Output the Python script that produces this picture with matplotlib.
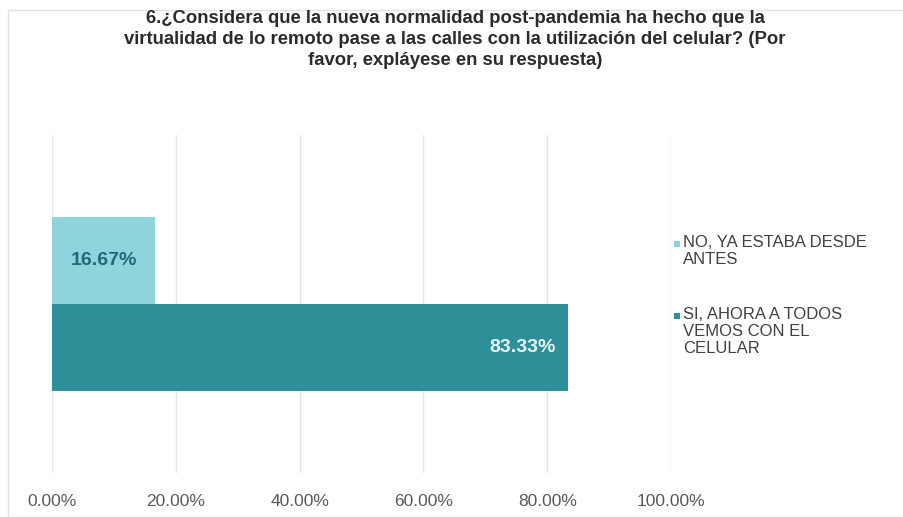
import matplotlib
matplotlib.use("Agg")
import matplotlib.pyplot as plt
from matplotlib.patches import Rectangle
from matplotlib.ticker import FuncFormatter

title = ("6.¿Considera que la nueva normalidad post-pandemia ha hecho que la\n"
         "virtualidad de lo remoto pase a las calles con la utilización del celular? (Por\n"
         "favor, explayese en su respuesta)").replace("explayese", "expláyese")
series = ["NO, YA ESTABA DESDE\nANTES", "SI, AHORA A TODOS\nVEMOS CON EL\nCELULAR"]
values = [16.67, 83.33]
colors = ["#8FD3DD", "#2E8F98"]
label_colors = ["#1F6A73", "#E4F6F8"]
xticks = [0, 20, 40, 60, 80, 100]

plt.rcParams['font.family'] = ['Liberation Sans', 'DejaVu Sans']

fig = plt.figure(figsize=(9.04, 5.17), dpi=100)
W, H = 904, 517
ax = fig.add_axes([52 / W, 1 - 473 / H, (671 - 52) / W, (473 - 135) / H])

bh = 0.257
offsets = [bh / 2, -bh / 2]
for i, (v, c) in enumerate(zip(values, colors)):
    ax.barh(offsets[i], v, height=bh, color=c, label=series[i], zorder=3)

# value labels
ax.text(values[0] / 2, offsets[0], f"{values[0]:.2f}%", ha="center", va="center",
        fontsize=14, fontweight="bold", color=label_colors[0], zorder=4)
ax.text(values[1] - 2, offsets[1], f"{values[1]:.2f}%", ha="right", va="center",
        fontsize=14, fontweight="bold", color=label_colors[1], zorder=4)

ax.set_xlim(0, 100)
ax.set_ylim(-0.5, 0.5)
ax.set_xticks(xticks)
ax.xaxis.set_major_formatter(FuncFormatter(lambda x, p: f"{x:.2f}%"))
ax.tick_params(axis="x", length=0, pad=15, labelsize=12.5, labelcolor="#595959")
ax.set_yticks([])
ax.grid(axis="x", color="#E6E6E6", linewidth=1, zorder=0)
for s in ax.spines.values():
    s.set_visible(False)

fig.text(455 / W, 1 - 10 / H, title, ha="center", va="top", fontsize=13.3,
         fontweight="bold", color="#2B2B2B", linespacing=1.3)

# legend (markers aligned with first text line, as in the reference)
leg_tops = [235, 307]
for lbl, c, top in zip(series, colors, leg_tops):
    fig.patches.append(Rectangle((674 / W, 1 - (top + 12) / H), 6 / W, 6 / H,
                                 transform=fig.transFigure, facecolor=c,
                                 edgecolor="none"))
    fig.text(683 / W, 1 - top / H, lbl, ha="left", va="top", fontsize=12,
             color="#404040", linespacing=1.15)

fig.patches.append(Rectangle((8 / W, 0), 1, 1 - 10 / H, transform=fig.transFigure,
                             fill=False, edgecolor="#E3E3E3", linewidth=1))

fig.savefig("out.png", dpi=100, facecolor="white")
